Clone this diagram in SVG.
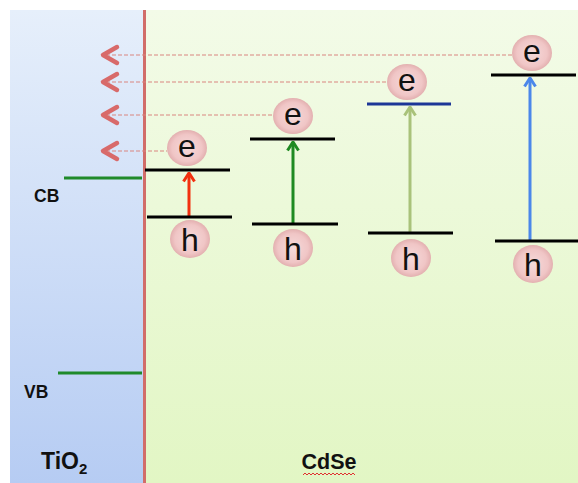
<svg xmlns="http://www.w3.org/2000/svg" width="578" height="483" viewBox="0 0 578 483">
  <defs>
    <linearGradient id="gBlue" x1="0" y1="0" x2="0" y2="1">
      <stop offset="0" stop-color="#e6effb"/>
      <stop offset="1" stop-color="#b6ccf3"/>
    </linearGradient>
    <linearGradient id="gGreen" x1="0" y1="0" x2="0" y2="1">
      <stop offset="0" stop-color="#f3fbe8"/>
      <stop offset="1" stop-color="#e2f6c4"/>
    </linearGradient>
    <radialGradient id="gBall" cx="0.5" cy="0.5" r="0.5">
      <stop offset="0" stop-color="#f6dada"/>
      <stop offset="0.75" stop-color="#f0c6c6"/>
      <stop offset="1" stop-color="#e3b0b0"/>
    </radialGradient>
    <marker id="mRed" viewBox="0 0 12 14" refX="10.5" refY="7" markerWidth="12" markerHeight="14" markerUnits="userSpaceOnUse" orient="auto">
      <polyline points="2,1.5 10.5,7 2,12.5" fill="none" stroke="#f2300f" stroke-width="3"/>
    </marker>
    <marker id="mGreen" viewBox="0 0 12 14" refX="10.5" refY="7" markerWidth="12" markerHeight="14" markerUnits="userSpaceOnUse" orient="auto">
      <polyline points="2,1.5 10.5,7 2,12.5" fill="none" stroke="#1f8a22" stroke-width="3"/>
    </marker>
    <marker id="mOlive" viewBox="0 0 12 14" refX="10.5" refY="7" markerWidth="12" markerHeight="14" markerUnits="userSpaceOnUse" orient="auto">
      <polyline points="2,1.5 10.5,7 2,12.5" fill="none" stroke="#a9c27a" stroke-width="3"/>
    </marker>
    <marker id="mBlue" viewBox="0 0 12 14" refX="10.5" refY="7" markerWidth="12" markerHeight="14" markerUnits="userSpaceOnUse" orient="auto">
      <polyline points="2,1.5 10.5,7 2,12.5" fill="none" stroke="#4b87ea" stroke-width="3"/>
    </marker>
  </defs>
  <style>
    .lvl { stroke: #000; stroke-width: 3; }
    .band { stroke: #1f8a2a; stroke-width: 3; }
    .dash { stroke: #d98580; stroke-width: 1.2; stroke-dasharray: 4 2; fill: none; }
    .chev { stroke: #d86a6a; stroke-width: 4.5; fill: none; stroke-linecap: round; stroke-linejoin: round; }
    .ball { fill: url(#gBall); }
    .lbl { font-family: "Liberation Sans", Arial, sans-serif; font-size: 32px; fill: #111; text-anchor: middle; }
    .side { font-family: "Liberation Sans", Arial, sans-serif; font-weight: bold; fill: #111; }
  </style>

  <rect width="578" height="483" fill="#ffffff"/>
  <g id="tio2-panel">
    <rect x="10" y="10" width="134" height="473" fill="url(#gBlue)"/>
  </g>
  <g id="cdse-panel">
    <rect x="145" y="10" width="433" height="473" fill="url(#gGreen)"/>
  </g>
  <g id="interface">
    <line x1="144.5" y1="10" x2="144.5" y2="483" stroke="#d16d69" stroke-width="3"/>
  </g>

  <g id="tio2-bands">
    <line class="band" x1="64" y1="178" x2="142" y2="178"/>
    <line class="band" x1="58" y1="373" x2="142" y2="373"/>
    <text class="side" x="34" y="202" font-size="17.5">CB</text>
    <text class="side" x="24" y="398" font-size="17.5">VB</text>
    <text class="side" x="41" y="469" font-size="23">TiO<tspan font-size="15" dy="5">2</tspan></text>
  </g>

  <g id="cdse-label">
    <text class="side" x="329" y="469" font-size="21.5" text-anchor="middle">CdSe</text>
    <path d="M303,475 l2,-2 l2,2 l2,-2 l2,2 l2,-2 l2,2 l2,-2 l2,2 l2,-2 l2,2 l2,-2 l2,2 l2,-2 l2,2 l2,-2 l2,2 l2,-2 l2,2 l2,-2 l2,2 l2,-2 l2,2 l2,-2 l2,2 l2,-2 l2,2" fill="none" stroke="#e03030" stroke-width="1"/>
  </g>

  <g id="connectors">
    <line class="dash" x1="106" y1="55" x2="512" y2="55"/>
    <line class="dash" x1="106" y1="82" x2="388" y2="82"/>
    <line class="dash" x1="106" y1="115" x2="274" y2="115"/>
    <line class="dash" x1="106" y1="151" x2="167" y2="151"/>
    <polyline class="chev" points="117,47 103,55 117,63"/>
    <polyline class="chev" points="117,74 103,82 117,90"/>
    <polyline class="chev" points="117,107 103,115 117,123"/>
    <polyline class="chev" points="117,143 103,151 117,159"/>
    <line x1="189" y1="216" x2="189" y2="173" stroke="#f2300f" stroke-width="3" marker-end="url(#mRed)"/>
    <line x1="293" y1="223" x2="293" y2="142" stroke="#1f8a22" stroke-width="3" marker-end="url(#mGreen)"/>
    <line x1="410" y1="232" x2="410" y2="107" stroke="#a9c27a" stroke-width="3" marker-end="url(#mOlive)"/>
    <line x1="530" y1="240" x2="530" y2="78" stroke="#4b87ea" stroke-width="3" marker-end="url(#mBlue)"/>
  </g>

  <g id="dot1">
    <line class="lvl" x1="145" y1="170" x2="230" y2="170"/>
    <line class="lvl" x1="147" y1="217" x2="232" y2="217"/>
    <ellipse class="ball" cx="187" cy="148" rx="20" ry="18"/>
    <text class="lbl" x="187" y="157">e</text>
    <ellipse class="ball" cx="190" cy="239" rx="20" ry="19"/>
    <text class="lbl" x="190" y="251">h</text>
  </g>
  <g id="dot2">
    <line class="lvl" x1="250" y1="139" x2="335" y2="139"/>
    <line class="lvl" x1="252" y1="224" x2="338" y2="224"/>
    <ellipse class="ball" cx="293" cy="116" rx="20" ry="18"/>
    <text class="lbl" x="293" y="125">e</text>
    <ellipse class="ball" cx="293" cy="248" rx="20" ry="19"/>
    <text class="lbl" x="293" y="260">h</text>
  </g>
  <g id="dot3">
    <line x1="367" y1="104" x2="451" y2="104" stroke="#1c3697" stroke-width="3"/>
    <line class="lvl" x1="368" y1="233" x2="453" y2="233"/>
    <ellipse class="ball" cx="407" cy="82" rx="20" ry="18"/>
    <text class="lbl" x="407" y="91">e</text>
    <ellipse class="ball" cx="411" cy="258" rx="20" ry="19"/>
    <text class="lbl" x="411" y="270">h</text>
  </g>
  <g id="dot4">
    <line class="lvl" x1="491" y1="75" x2="576" y2="75"/>
    <line class="lvl" x1="495" y1="241" x2="578" y2="241"/>
    <ellipse class="ball" cx="532" cy="53" rx="20" ry="18"/>
    <text class="lbl" x="532" y="62">e</text>
    <ellipse class="ball" cx="533" cy="264" rx="20" ry="19"/>
    <text class="lbl" x="533" y="276">h</text>
  </g>
</svg>
